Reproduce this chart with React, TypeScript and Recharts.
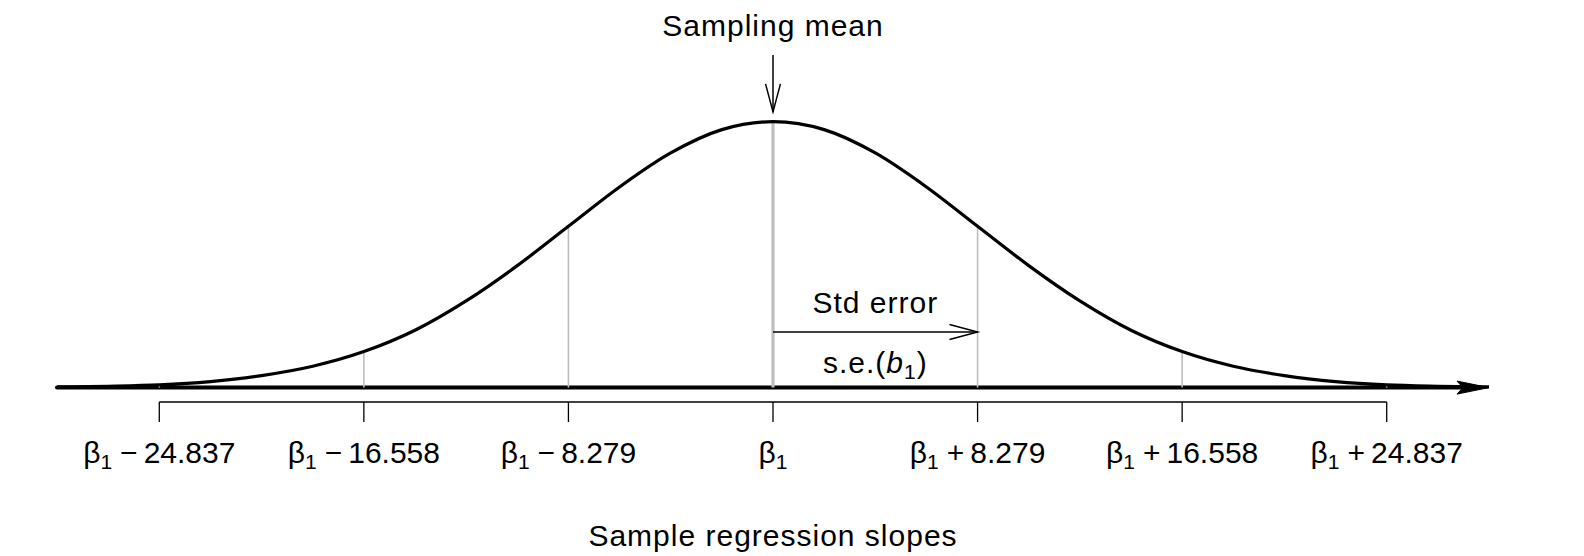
import React from 'react'
import {
  ComposedChart,
  Line,
  XAxis,
  YAxis,
  ReferenceLine,
  ReferenceDot,
} from 'recharts'

// density curve (x in standard errors from beta1)
const curveX = [
  -3.5, -3.25, -3, -2.75, -2.5, -2.25, -2, -1.75, -1.5, -1.25, -1, -0.75, -0.5, -0.25, 0,
  0.25, 0.5, 0.75, 1, 1.25, 1.5, 1.75, 2, 2.25, 2.5, 2.75, 3, 3.25, 3.5,
]
const curveY = [
  0.001, 0.002, 0.004, 0.009, 0.018, 0.032, 0.054, 0.086, 0.13, 0.183, 0.242, 0.301, 0.352, 0.387, 0.399,
  0.387, 0.352, 0.301, 0.242, 0.183, 0.13, 0.086, 0.054, 0.032, 0.018, 0.009, 0.004, 0.002, 0.001,
]

const sdTicks = [-3, -2, -1, 0, 1, 2, 3]
const tickSigns = ['−', '−', '−', '', '+', '+', '+']
const tickAmounts = ['24.837', '16.558', '8.279', '', '8.279', '16.558', '24.837']
const guideAt = [-3, -2, -1, 0, 1, 2, 3]

const xTitle = 'Sample regression slopes'
const meanLabel = 'Sampling mean'
const seLabel = 'Std error'

const W = 1584
const H = 556
const FONT = '"Liberation Sans", Arial, Helvetica, sans-serif'
const FS = 30
const LS = 1
const Y_MIN = -0.0216
const Y_MAX = 0.55
const GREY = '#bebebe'

const curveData = curveX.map((x, i) => ({ x, y: curveY[i] }))
const heightAt = (x: number) => curveY[curveX.indexOf(x)]

function BetaTick(props: any) {
  const { x, y, payload } = props
  const i = sdTicks.indexOf(payload.value)
  const sign = tickSigns[i]
  const amt = tickAmounts[i]
  return (
    <text x={x} y={y + 41} textAnchor="middle" fontFamily={FONT} fontSize={FS} fill="#000">
      <tspan>β</tspan>
      <tspan fontSize={21} dy={6}>1</tspan>
      {sign ? (
        <tspan dy={-6} dx={8}>
          {sign}
        </tspan>
      ) : null}
      {sign ? <tspan dx={6}>{amt}</tspan> : null}
    </text>
  )
}

// thick axis line with a filled head at the end
function AxisArrow(p: any) {
  const { x1, y1, x2, y2 } = p
  const len = 32
  const half = 6.5
  return (
    <g>
      <line x1={x1} y1={y1} x2={x2 - 24} y2={y2} stroke="#000" strokeWidth={4} strokeLinecap="round" />
      <polygon
        points={`${x2},${y2} ${x2 - len},${y2 - half} ${x2 - 26},${y2} ${x2 - len},${y2 + half}`}
        fill="#000"
        stroke="#000"
        strokeWidth={1}
        strokeLinejoin="round"
      />
    </g>
  )
}

// thin arrow with open head at (x2, y2)
function OpenArrow(p: any) {
  const { x1, y1, x2, y2 } = p
  const ang = Math.atan2(y2 - y1, x2 - x1)
  const len = 29
  const spread = 0.26
  const a1 = ang + Math.PI - spread
  const a2 = ang + Math.PI + spread
  return (
    <g stroke="#000" strokeWidth={1.5} fill="none">
      <line x1={x1} y1={y1} x2={x2} y2={y2} />
      <polyline
        points={`${x2 + len * Math.cos(a1)},${y2 + len * Math.sin(a1)} ${x2},${y2} ${x2 + len * Math.cos(a2)},${y2 + len * Math.sin(a2)}`}
      />
    </g>
  )
}

const textAt = (content: React.ReactNode) => (p: any) => (
  <text
    x={p.cx}
    y={p.cy}
    textAnchor="middle"
    fontFamily={FONT}
    fontSize={FS}
    letterSpacing={LS}
    fill="#000"
  >
    {content}
  </text>
)

const seContent = (
  <>
    <tspan>s.e.(</tspan>
    <tspan fontStyle="italic">b</tspan>
    <tspan fontSize={21} dy={6}>1</tspan>
    <tspan dy={-6}>)</tspan>
  </>
)

export default function App() {
  return (
    <div style={{ position: 'absolute', left: 0, top: 0, width: W, height: H, background: '#fff' }}>
      <ComposedChart
        width={W}
        height={H}
        data={curveData}
        margin={{ top: 21, right: 95, bottom: 0, left: 57 }}
      >
        <XAxis
          type="number"
          dataKey="x"
          domain={[-3.5, 3.5]}
          ticks={sdTicks}
          interval={0}
          allowDataOverflow
          axisLine={false}
          tickLine={{ stroke: '#000', strokeWidth: 1.3 }}
          tickSize={20}
          tickMargin={0}
          tick={<BetaTick />}
          height={154}
          label={{
            value: xTitle,
            position: 'insideBottom',
            offset: 10,
            fill: '#000',
            fontSize: FS,
            fontFamily: FONT,
            letterSpacing: LS,
          }}
        />
        <YAxis type="number" domain={[Y_MIN, Y_MAX]} hide allowDataOverflow />

        <ReferenceLine
          segment={[
            { x: -3, y: Y_MIN },
            { x: 3, y: Y_MIN },
          ]}
          stroke="#000"
          strokeWidth={1.3}
        />
        <ReferenceLine
          segment={[
            { x: -3.5, y: 0 },
            { x: 3.5, y: 0 },
          ]}
          shape={AxisArrow}
        />
        {guideAt.map((g) => (
          <ReferenceLine
            key={g}
            segment={[
              { x: g, y: 0 },
              { x: g, y: heightAt(g) },
            ]}
            stroke={GREY}
            strokeWidth={g === 0 ? 3.2 : 1.6}
          />
        ))}

        <Line
          type="monotone"
          dataKey="y"
          stroke="#000"
          strokeWidth={3.2}
          dot={false}
          activeDot={false}
          isAnimationActive={false}
        />

        <ReferenceLine
          segment={[
            { x: 0, y: 0.499 },
            { x: 0, y: 0.4136 },
          ]}
          shape={OpenArrow}
        />
        <ReferenceLine
          segment={[
            { x: 0, y: 0.0835 },
            { x: 1, y: 0.0835 },
          ]}
          shape={OpenArrow}
        />
        <ReferenceDot x={0} y={0.527} r={0} shape={textAt(meanLabel)} />
        <ReferenceDot x={0.5} y={0.112} r={0} shape={textAt(seLabel)} />
        <ReferenceDot x={0.5} y={0.022} r={0} shape={textAt(seContent)} />
      </ComposedChart>
    </div>
  )
}
